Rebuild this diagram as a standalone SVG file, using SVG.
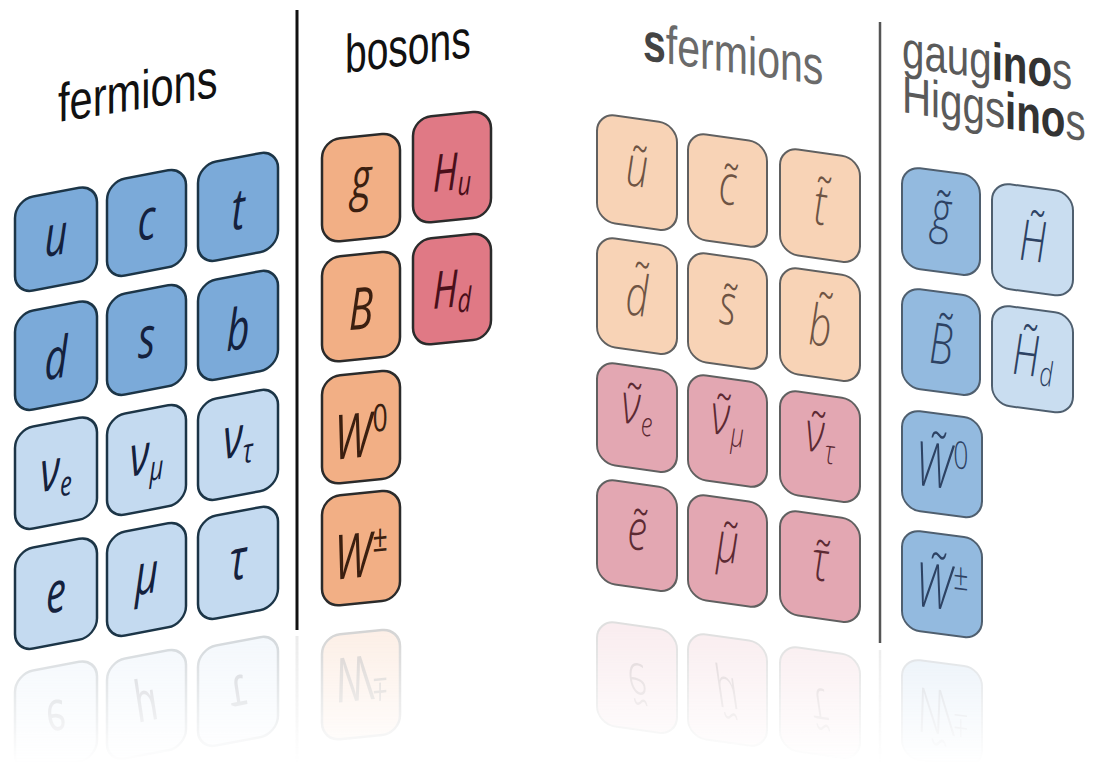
<svg xmlns="http://www.w3.org/2000/svg" width="1094" height="764" viewBox="0 0 1094 764">
<style>
.fq{fill:#7BAAD9;stroke:#1c3547;stroke-width:2.5}
.fl{fill:#C4DAF0;stroke:#1c3547;stroke-width:2.5}
.bo{fill:#F2AF85;stroke:#2b2b2b;stroke-width:2.5}
.bh{fill:#E07985;stroke:#2b2b2b;stroke-width:2.5}
.sq{fill:#F8D3B6;stroke:#606060;stroke-width:2}
.sl{fill:#E3A7B2;stroke:#606060;stroke-width:2}
.gg{fill:#93BADF;stroke:#4f5f6f;stroke-width:2}
.gh{fill:#C9DDF0;stroke:#4f5f6f;stroke-width:2}
.sym{font-family:"Open Sans","DejaVu Sans",sans-serif;font-style:italic;font-size:57px;text-anchor:middle}
.lt{font-weight:300}
.ft{fill:#14213d}
.bt{fill:#3b1f10}
.ht{fill:#4a0f1a}
.st{fill:#6e5444}
.pt{fill:#5c2a33}
.gt{fill:#2d4263}
.sub{font-size:34px}
.sup{font-size:38px;font-style:normal}
.lab{font-family:"Liberation Sans",Arial,sans-serif;font-size:52px}
</style>
<defs>
<linearGradient id="fg" gradientUnits="userSpaceOnUse" x1="0" y1="630" x2="0" y2="764">
<stop offset="0" stop-color="#fff" stop-opacity="1"/>
<stop offset="1" stop-color="#fff" stop-opacity="0"/>
</linearGradient>
<mask id="fade" maskUnits="userSpaceOnUse" x="0" y="600" width="1094" height="164">
<rect x="0" y="600" width="1094" height="164" fill="url(#fg)"/>
</mask>
</defs>
<rect width="1094" height="764" fill="#fff"/>

<g id="labels">
<text class="lab" fill="#111" transform="translate(58,122) skewY(-9) scale(0.8,1.04)">fermions</text>
<text class="lab" fill="#111" transform="translate(345,73) skewY(-7.3) scale(0.75,1.04)">bosons</text>
<text class="lab" transform="translate(643,60) skewY(7.9) scale(0.79,1.04)"><tspan font-weight="bold" fill="#444">s</tspan><tspan fill="#6a6a6a">fermions</tspan></text>
<text class="lab" style="font-size:48px" transform="translate(902,67) skewY(7.7) scale(0.84,1.08)"><tspan fill="#5a5a5a">gaug</tspan><tspan font-weight="bold" fill="#333">ino</tspan><tspan fill="#5a5a5a">s</tspan></text>
<text class="lab" style="font-size:48px" transform="translate(902,112) skewY(9) scale(0.84,1.08)"><tspan fill="#5a5a5a">Higgs</tspan><tspan font-weight="bold" fill="#333">ino</tspan><tspan fill="#5a5a5a">s</tspan></text>
</g>

<g id="connectors">
<line x1="297" y1="10" x2="297" y2="630" stroke="#111" stroke-width="3"/>
<line x1="880" y1="22" x2="880" y2="643" stroke="#555" stroke-width="2.5"/>
</g>

<!-- fermions -->
<g id="n-u" transform="translate(15,200) skewY(-10.8)"><rect class="fq" width="82" height="94" rx="18"/><text class="sym ft" transform="matrix(0.7,0,0,1,41,63)">u</text></g>
<g id="n-c" transform="translate(107,182) skewY(-10.8)"><rect class="fq" width="79" height="97" rx="18"/><text class="sym ft" transform="matrix(0.7,0,0,1,39.5,65)">c</text></g>
<g id="n-t" transform="translate(198,165) skewY(-10.8)"><rect class="fq" width="80" height="99" rx="18"/><text class="sym ft" transform="matrix(0.7,0,0,1,40,72)">t</text></g>
<g id="n-d" transform="translate(15,314) skewY(-10.8)"><rect class="fq" width="82" height="99" rx="18"/><text class="sym ft" transform="matrix(0.7,0,0,1,41,72)">d</text></g>
<g id="n-s" transform="translate(107,297) skewY(-10.8)"><rect class="fq" width="79" height="101" rx="18"/><text class="sym ft" transform="matrix(0.7,0,0,1,39.5,68)">s</text></g>
<g id="n-b" transform="translate(198,283) skewY(-10.8)"><rect class="fq" width="80" height="100" rx="18"/><text class="sym ft" transform="matrix(0.7,0,0,1,40,74)">b</text></g>
<g id="n-nue" transform="translate(15,430) skewY(-10.8)"><rect class="fl" width="82" height="102" rx="18"/><text class="sym ft" transform="matrix(0.7,0,0,1,41,67)">ν<tspan class="sub" dy="8">e</tspan></text></g>
<g id="n-numu" transform="translate(107,417) skewY(-10.8)"><rect class="fl" width="79" height="101" rx="18"/><text class="sym ft" transform="matrix(0.7,0,0,1,39.5,64)">ν<tspan class="sub" dy="8">μ</tspan></text></g>
<g id="n-nutau" transform="translate(198,402) skewY(-10.8)"><rect class="fl" width="80" height="101" rx="18"/><text class="sym ft" transform="matrix(0.7,0,0,1,40,62)">ν<tspan class="sub" dy="8">τ</tspan></text></g>
<g id="n-e" transform="translate(15,551) skewY(-10.8)"><rect class="fl" width="82" height="101" rx="18"/><text class="sym ft" transform="matrix(0.7,0,0,1,41,69)">e</text></g>
<g id="n-mu" transform="translate(107,535) skewY(-10.8)"><rect class="fl" width="79" height="104" rx="18"/><text class="sym ft" transform="matrix(0.7,0,0,1,39.5,66)">μ</text></g>
<g id="n-tau" transform="translate(198,519) skewY(-10.8)"><rect class="fl" width="80" height="103" rx="18"/><text class="sym ft" transform="matrix(0.7,0,0,1,40,68)">τ</text></g>

<!-- bosons -->
<g id="n-g" transform="translate(322,140) skewY(-5.7)"><rect class="bo" width="78" height="103" rx="18"/><text class="sym bt" transform="matrix(0.7,0,0,1,39,62)">g</text></g>
<g id="n-Hu" transform="translate(413,118) skewY(-5.7)"><rect class="bh" width="78" height="106" rx="18"/><text class="sym ht" style="font-size:52px" transform="matrix(0.7,0,0,1,39,76)">H<tspan class="sub" dy="6">u</tspan></text></g>
<g id="n-B" transform="translate(322,258) skewY(-5.7)"><rect class="bo" width="78" height="105" rx="18"/><text class="sym bt" style="font-size:58px" transform="matrix(0.7,0,0,1,39,75)">B</text></g>
<g id="n-Hd" transform="translate(413,240) skewY(-5.7)"><rect class="bh" width="78" height="106" rx="18"/><text class="sym ht" style="font-size:52px" transform="matrix(0.7,0,0,1,39,71)">H<tspan class="sub" dy="6">d</tspan></text></g>
<g id="n-W0" transform="translate(322,377) skewY(-5.7)"><rect class="bo" width="78" height="108" rx="18"/><text class="sym bt" style="font-size:62px" transform="matrix(0.7,0,0,1,39,84)">W<tspan class="sup" dx="2" dy="-24">0</tspan></text></g>
<g id="n-Wpm" transform="translate(322,497) skewY(-5.7)"><rect class="bo" width="78" height="110" rx="18"/><text class="sym bt" style="font-size:62px" transform="matrix(0.7,0,0,1,39,84)">W<tspan class="sup" dx="2" dy="-24">±</tspan></text></g>

<!-- sfermions -->
<g id="n-su" transform="translate(597,113) skewY(8)"><rect class="sq" width="80" height="108" rx="18"/><text class="sym lt st" transform="matrix(0.7,0,0,1,40,68)">ũ</text></g>
<g id="n-sc" transform="translate(688,132) skewY(8)"><rect class="sq" width="79" height="106" rx="18"/><text class="sym lt st" transform="matrix(0.7,0,0,1,39.5,67)">c̃</text></g>
<g id="n-st" transform="translate(780,147) skewY(8)"><rect class="sq" width="80" height="106" rx="18"/><text class="sym lt st" transform="matrix(0.7,0,0,1,40,72)">t̃</text></g>
<g id="n-sd" transform="translate(597,236) skewY(8)"><rect class="sq" width="80" height="109" rx="18"/><text class="sym lt st" transform="matrix(0.7,0,0,1,40,74)">d̃</text></g>
<g id="n-ss" transform="translate(688,251) skewY(8)"><rect class="sq" width="79" height="109" rx="18"/><text class="sym lt st" transform="matrix(0.7,0,0,1,39.5,68)">s̃</text></g>
<g id="n-sb" transform="translate(780,266) skewY(8)"><rect class="sq" width="80" height="106" rx="18"/><text class="sym lt st" transform="matrix(0.7,0,0,1,40,74)">b̃</text></g>
<g id="n-snue" transform="translate(597,361) skewY(8)"><rect class="sl" width="80" height="102" rx="18"/><text class="sym lt pt" transform="matrix(0.7,0,0,1,40,58)">ν̃<tspan class="sub" dy="10">e</tspan></text></g>
<g id="n-snumu" transform="translate(688,373) skewY(8)"><rect class="sl" width="79" height="105" rx="18"/><text class="sym lt pt" transform="matrix(0.7,0,0,1,39.5,57)">ν̃<tspan class="sub" dy="10">μ</tspan></text></g>
<g id="n-snutau" transform="translate(780,389) skewY(8)"><rect class="sl" width="80" height="104" rx="18"/><text class="sym lt pt" transform="matrix(0.7,0,0,1,40,58)">ν̃<tspan class="sub" dy="10">τ</tspan></text></g>
<g id="n-se" transform="translate(597,478) skewY(8)"><rect class="sl" width="80" height="104" rx="18"/><text class="sym lt pt" transform="matrix(0.7,0,0,1,40,66)">ẽ</text></g>
<g id="n-smu" transform="translate(688,493) skewY(8)"><rect class="sl" width="79" height="105" rx="18"/><text class="sym lt pt" transform="matrix(0.7,0,0,1,39.5,64)">μ̃</text></g>
<g id="n-stau" transform="translate(780,509) skewY(8)"><rect class="sl" width="80" height="104" rx="18"/><text class="sym lt pt" transform="matrix(0.7,0,0,1,40,66)">τ̃</text></g>

<!-- gauginos / higgsinos -->
<g id="n-sg" transform="translate(902,166) skewY(7.4)"><rect class="gg" width="78" height="101" rx="18"/><text class="sym lt gt" transform="matrix(0.7,0,0,1,39,60)">g̃</text></g>
<g id="n-sH" transform="translate(992,182) skewY(7.4)"><rect class="gh" width="81" height="105" rx="18"/><text class="sym lt gt" transform="matrix(0.7,0,0,1,40.5,74)">H̃</text></g>
<g id="n-sB" transform="translate(902,287) skewY(7.4)"><rect class="gg" width="78" height="100" rx="18"/><text class="sym lt gt" transform="matrix(0.7,0,0,1,39,72)">B̃</text></g>
<g id="n-sHd" transform="translate(992,304) skewY(7.4)"><rect class="gh" width="81" height="100" rx="18"/><text class="sym lt gt" transform="matrix(0.7,0,0,1,40.5,67)">H̃<tspan class="sub" dy="8">d</tspan></text></g>
<g id="n-sW0" transform="translate(902,409) skewY(7.4)"><rect class="gg" width="80" height="100" rx="18"/><text class="sym lt gt" style="font-size:62px" transform="matrix(0.7,0,0,1,40,74)">W̃<tspan class="sup" dx="2" dy="-22">0</tspan></text></g>
<g id="n-sWpm" transform="translate(902,529) skewY(7.4)"><rect class="gg" width="80" height="100" rx="18"/><text class="sym lt gt" style="font-size:62px" transform="matrix(0.7,0,0,1,40,75)">W̃<tspan class="sup" dx="2" dy="-22">±</tspan></text></g>

<!-- reflections -->
<g id="reflections" mask="url(#fade)" opacity="0.2">
<line x1="297" y1="636" x2="297" y2="764" stroke="#999" stroke-width="3"/>
<line x1="880" y1="650" x2="880" y2="764" stroke="#999" stroke-width="2.5"/>
<g transform="translate(15,674) skewY(-10.8)"><rect class="fl" width="82" height="100" rx="18"/><text class="sym ft" transform="matrix(0.7,0,0,-1,41,34)">e</text></g>
<g transform="translate(107,662) skewY(-10.8)"><rect class="fl" width="79" height="100" rx="18"/><text class="sym ft" transform="matrix(0.7,0,0,-1,39.5,36)">μ</text></g>
<g transform="translate(198,649) skewY(-10.8)"><rect class="fl" width="80" height="100" rx="18"/><text class="sym ft" transform="matrix(0.7,0,0,-1,40,34)">τ</text></g>
<g transform="translate(322,636) skewY(-5.7)"><rect class="bo" width="78" height="105" rx="18"/><text class="sym bt" style="font-size:62px" transform="matrix(0.7,0,0,-1,39,24)">W<tspan class="sup" dx="2" dy="-24">±</tspan></text></g>
<g transform="translate(597,620) skewY(8)"><rect class="sl" width="80" height="104" rx="18"/><text class="sym lt pt" transform="matrix(0.7,0,0,-1,40,38)">ẽ</text></g>
<g transform="translate(688,632) skewY(8)"><rect class="sl" width="79" height="105" rx="18"/><text class="sym lt pt" transform="matrix(0.7,0,0,-1,39.5,40)">μ̃</text></g>
<g transform="translate(780,645) skewY(8)"><rect class="sl" width="80" height="104" rx="18"/><text class="sym lt pt" transform="matrix(0.7,0,0,-1,40,38)">τ̃</text></g>
<g transform="translate(902,658) skewY(7.4)"><rect class="gg" width="80" height="100" rx="18"/><text class="sym lt gt" style="font-size:62px" transform="matrix(0.7,0,0,-1,40,27)">W̃<tspan class="sup" dx="2" dy="-22">±</tspan></text></g>
</g>
</svg>
